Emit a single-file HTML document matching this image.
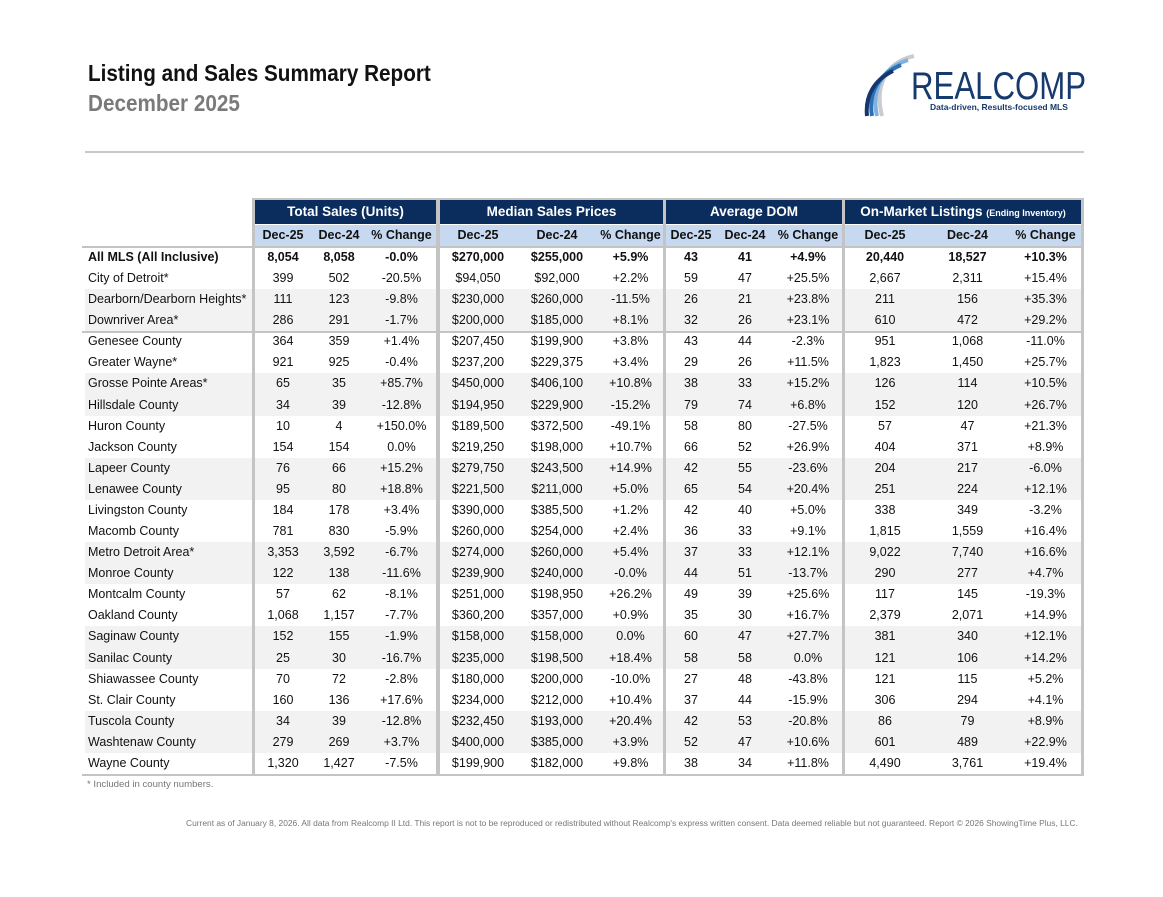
<!DOCTYPE html>
<html><head><meta charset="utf-8"><style>
*{margin:0;padding:0;box-sizing:border-box}
body{width:1163px;height:897px;background:#fff;font-family:"Liberation Sans",Arial,sans-serif;position:relative;overflow:hidden;color:#111}
.abs{position:absolute}
.row{position:absolute;left:85px;display:grid;grid-template-columns:170px 56px 56px 69px 4px 76px 82px 65px 3px 50px 58px 68px 3px 80px 85px 71px;height:21.08px;line-height:21.08px;font-size:12.5px;width:999px}
.row span{text-align:center;white-space:nowrap}
.row span:first-child{text-align:left;padding-left:3px}
.g{background:#f2f2f2}
.b{font-weight:bold}
.nav{position:absolute;top:200px;height:24px;background:#0b2d5e;color:#fff;font-weight:bold;font-size:13.5px;text-align:center;line-height:24px}
.sub{position:absolute;top:225px;height:21px;background:#c6d9f1}
.hdr{top:225px;font-weight:bold;background:transparent}
.vb{position:absolute;top:198px;height:577px;background:#c4c4c4}
.ttl{position:absolute;left:88px;font-size:23px;font-weight:bold;transform:scaleX(0.9);transform-origin:left top;white-space:nowrap}
</style></head><body>
<div class="ttl" style="top:60px">Listing and Sales Summary Report</div>
<div class="ttl" style="top:90px;color:#7a7a7a">December 2025</div>
<svg class="abs" style="left:862px;top:52px" width="60" height="66" viewBox="0 0 60 66">
<path d="M52 4 C25 10 12 32 20 64" stroke="#c9ccd0" stroke-width="4" fill="none"/>
<path d="M46 8 C21 16 9 36 15 64" stroke="#7fb2de" stroke-width="4" fill="none"/>
<path d="M39 13 C17 22 6 40 10 64" stroke="#2e6fb5" stroke-width="4" fill="none"/>
<path d="M31 19 C12 28 3 44 5 64" stroke="#14376d" stroke-width="4" fill="none"/>
</svg>
<div class="abs" style="left:911px;top:65px;font-size:39px;color:#163a6e;transform:scaleX(0.8);transform-origin:left top;white-space:nowrap">REALCOMP</div>
<div class="abs" style="left:930px;top:102px;font-size:8.5px;font-weight:bold;color:#163a6e">Data-driven, Results-focused MLS</div>
<div class="abs" style="left:85px;top:151px;width:999px;height:2px;background:#c8c8c8"></div>

<div class="abs" style="left:252px;top:198px;width:832px;height:2px;background:#c4c4c4"></div>
<div class="nav" style="left:255px;width:181px">Total Sales (Units)</div>
<div class="nav" style="left:440px;width:223px">Median Sales Prices</div>
<div class="nav" style="left:666px;width:176px">Average DOM</div>
<div class="nav" style="left:845px;width:236px">On-Market Listings <span style="font-size:9px">(Ending Inventory)</span></div>
<div class="sub" style="left:255px;width:181px"></div>
<div class="sub" style="left:440px;width:223px"></div>
<div class="sub" style="left:666px;width:176px"></div>
<div class="sub" style="left:845px;width:236px"></div>
<div class="row hdr"><span></span><span>Dec-25</span><span>Dec-24</span><span>% Change</span><i></i><span>Dec-25</span><span>Dec-24</span><span>% Change</span><i></i><span>Dec-25</span><span>Dec-24</span><span>% Change</span><i></i><span>Dec-25</span><span>Dec-24</span><span>% Change</span></div>

<div id="rows">
<div class="row b" style="top:247px"><span>All MLS (All Inclusive)</span><span>8,054</span><span>8,058</span><span>-0.0%</span><i></i><span>$270,000</span><span>$255,000</span><span>+5.9%</span><i></i><span>43</span><span>41</span><span>+4.9%</span><i></i><span>20,440</span><span>18,527</span><span>+10.3%</span></div>
<div class="row" style="top:268.08px"><span>City of Detroit*</span><span>399</span><span>502</span><span>-20.5%</span><i></i><span>$94,050</span><span>$92,000</span><span>+2.2%</span><i></i><span>59</span><span>47</span><span>+25.5%</span><i></i><span>2,667</span><span>2,311</span><span>+15.4%</span></div>
<div class="row g" style="top:289.16px"><span>Dearborn/Dearborn Heights*</span><span>111</span><span>123</span><span>-9.8%</span><i></i><span>$230,000</span><span>$260,000</span><span>-11.5%</span><i></i><span>26</span><span>21</span><span>+23.8%</span><i></i><span>211</span><span>156</span><span>+35.3%</span></div>
<div class="row g" style="top:310.24px"><span>Downriver Area*</span><span>286</span><span>291</span><span>-1.7%</span><i></i><span>$200,000</span><span>$185,000</span><span>+8.1%</span><i></i><span>32</span><span>26</span><span>+23.1%</span><i></i><span>610</span><span>472</span><span>+29.2%</span></div>
<div class="row" style="top:331.32px"><span>Genesee County</span><span>364</span><span>359</span><span>+1.4%</span><i></i><span>$207,450</span><span>$199,900</span><span>+3.8%</span><i></i><span>43</span><span>44</span><span>-2.3%</span><i></i><span>951</span><span>1,068</span><span>-11.0%</span></div>
<div class="row" style="top:352.4px"><span>Greater Wayne*</span><span>921</span><span>925</span><span>-0.4%</span><i></i><span>$237,200</span><span>$229,375</span><span>+3.4%</span><i></i><span>29</span><span>26</span><span>+11.5%</span><i></i><span>1,823</span><span>1,450</span><span>+25.7%</span></div>
<div class="row g" style="top:373.48px"><span>Grosse Pointe Areas*</span><span>65</span><span>35</span><span>+85.7%</span><i></i><span>$450,000</span><span>$406,100</span><span>+10.8%</span><i></i><span>38</span><span>33</span><span>+15.2%</span><i></i><span>126</span><span>114</span><span>+10.5%</span></div>
<div class="row g" style="top:394.56px"><span>Hillsdale County</span><span>34</span><span>39</span><span>-12.8%</span><i></i><span>$194,950</span><span>$229,900</span><span>-15.2%</span><i></i><span>79</span><span>74</span><span>+6.8%</span><i></i><span>152</span><span>120</span><span>+26.7%</span></div>
<div class="row" style="top:415.64px"><span>Huron County</span><span>10</span><span>4</span><span>+150.0%</span><i></i><span>$189,500</span><span>$372,500</span><span>-49.1%</span><i></i><span>58</span><span>80</span><span>-27.5%</span><i></i><span>57</span><span>47</span><span>+21.3%</span></div>
<div class="row" style="top:436.72px"><span>Jackson County</span><span>154</span><span>154</span><span>0.0%</span><i></i><span>$219,250</span><span>$198,000</span><span>+10.7%</span><i></i><span>66</span><span>52</span><span>+26.9%</span><i></i><span>404</span><span>371</span><span>+8.9%</span></div>
<div class="row g" style="top:457.8px"><span>Lapeer County</span><span>76</span><span>66</span><span>+15.2%</span><i></i><span>$279,750</span><span>$243,500</span><span>+14.9%</span><i></i><span>42</span><span>55</span><span>-23.6%</span><i></i><span>204</span><span>217</span><span>-6.0%</span></div>
<div class="row g" style="top:478.88px"><span>Lenawee County</span><span>95</span><span>80</span><span>+18.8%</span><i></i><span>$221,500</span><span>$211,000</span><span>+5.0%</span><i></i><span>65</span><span>54</span><span>+20.4%</span><i></i><span>251</span><span>224</span><span>+12.1%</span></div>
<div class="row" style="top:499.96px"><span>Livingston County</span><span>184</span><span>178</span><span>+3.4%</span><i></i><span>$390,000</span><span>$385,500</span><span>+1.2%</span><i></i><span>42</span><span>40</span><span>+5.0%</span><i></i><span>338</span><span>349</span><span>-3.2%</span></div>
<div class="row" style="top:521.04px"><span>Macomb County</span><span>781</span><span>830</span><span>-5.9%</span><i></i><span>$260,000</span><span>$254,000</span><span>+2.4%</span><i></i><span>36</span><span>33</span><span>+9.1%</span><i></i><span>1,815</span><span>1,559</span><span>+16.4%</span></div>
<div class="row g" style="top:542.12px"><span>Metro Detroit Area*</span><span>3,353</span><span>3,592</span><span>-6.7%</span><i></i><span>$274,000</span><span>$260,000</span><span>+5.4%</span><i></i><span>37</span><span>33</span><span>+12.1%</span><i></i><span>9,022</span><span>7,740</span><span>+16.6%</span></div>
<div class="row g" style="top:563.2px"><span>Monroe County</span><span>122</span><span>138</span><span>-11.6%</span><i></i><span>$239,900</span><span>$240,000</span><span>-0.0%</span><i></i><span>44</span><span>51</span><span>-13.7%</span><i></i><span>290</span><span>277</span><span>+4.7%</span></div>
<div class="row" style="top:584.28px"><span>Montcalm County</span><span>57</span><span>62</span><span>-8.1%</span><i></i><span>$251,000</span><span>$198,950</span><span>+26.2%</span><i></i><span>49</span><span>39</span><span>+25.6%</span><i></i><span>117</span><span>145</span><span>-19.3%</span></div>
<div class="row" style="top:605.36px"><span>Oakland County</span><span>1,068</span><span>1,157</span><span>-7.7%</span><i></i><span>$360,200</span><span>$357,000</span><span>+0.9%</span><i></i><span>35</span><span>30</span><span>+16.7%</span><i></i><span>2,379</span><span>2,071</span><span>+14.9%</span></div>
<div class="row g" style="top:626.44px"><span>Saginaw County</span><span>152</span><span>155</span><span>-1.9%</span><i></i><span>$158,000</span><span>$158,000</span><span>0.0%</span><i></i><span>60</span><span>47</span><span>+27.7%</span><i></i><span>381</span><span>340</span><span>+12.1%</span></div>
<div class="row g" style="top:647.52px"><span>Sanilac County</span><span>25</span><span>30</span><span>-16.7%</span><i></i><span>$235,000</span><span>$198,500</span><span>+18.4%</span><i></i><span>58</span><span>58</span><span>0.0%</span><i></i><span>121</span><span>106</span><span>+14.2%</span></div>
<div class="row" style="top:668.6px"><span>Shiawassee County</span><span>70</span><span>72</span><span>-2.8%</span><i></i><span>$180,000</span><span>$200,000</span><span>-10.0%</span><i></i><span>27</span><span>48</span><span>-43.8%</span><i></i><span>121</span><span>115</span><span>+5.2%</span></div>
<div class="row" style="top:689.68px"><span>St. Clair County</span><span>160</span><span>136</span><span>+17.6%</span><i></i><span>$234,000</span><span>$212,000</span><span>+10.4%</span><i></i><span>37</span><span>44</span><span>-15.9%</span><i></i><span>306</span><span>294</span><span>+4.1%</span></div>
<div class="row g" style="top:710.76px"><span>Tuscola County</span><span>34</span><span>39</span><span>-12.8%</span><i></i><span>$232,450</span><span>$193,000</span><span>+20.4%</span><i></i><span>42</span><span>53</span><span>-20.8%</span><i></i><span>86</span><span>79</span><span>+8.9%</span></div>
<div class="row g" style="top:731.84px"><span>Washtenaw County</span><span>279</span><span>269</span><span>+3.7%</span><i></i><span>$400,000</span><span>$385,000</span><span>+3.9%</span><i></i><span>52</span><span>47</span><span>+10.6%</span><i></i><span>601</span><span>489</span><span>+22.9%</span></div>
<div class="row" style="top:752.92px"><span>Wayne County</span><span>1,320</span><span>1,427</span><span>-7.5%</span><i></i><span>$199,900</span><span>$182,000</span><span>+9.8%</span><i></i><span>38</span><span>34</span><span>+11.8%</span><i></i><span>4,490</span><span>3,761</span><span>+19.4%</span></div>
</div>

<div class="vb" style="left:252px;width:3px"></div>
<div class="vb" style="left:436px;width:4px"></div>
<div class="vb" style="left:663px;width:3px"></div>
<div class="vb" style="left:842px;width:3px"></div>
<div class="vb" style="left:1081px;width:3px"></div>
<div class="abs" style="left:82px;top:246px;width:1002px;height:2px;background:#c4c4c4"></div>
<div class="abs" style="left:82px;top:330.5px;width:1002px;height:2px;background:#c4c4c4"></div>
<div class="abs" style="left:82px;top:773.5px;width:1002px;height:2px;background:#c4c4c4"></div>

<div class="abs" style="left:87px;top:779px;font-size:9.6px;color:#777">* Included in county numbers.</div>
<div class="abs" style="left:186px;top:818px;font-size:8.42px;color:#777;white-space:nowrap">Current as of January 8, 2026. All data from Realcomp II Ltd. This report is not to be reproduced or redistributed without Realcomp's express written consent. Data deemed reliable but not guaranteed. Report © 2026 ShowingTime Plus, LLC.</div>
</body></html>
